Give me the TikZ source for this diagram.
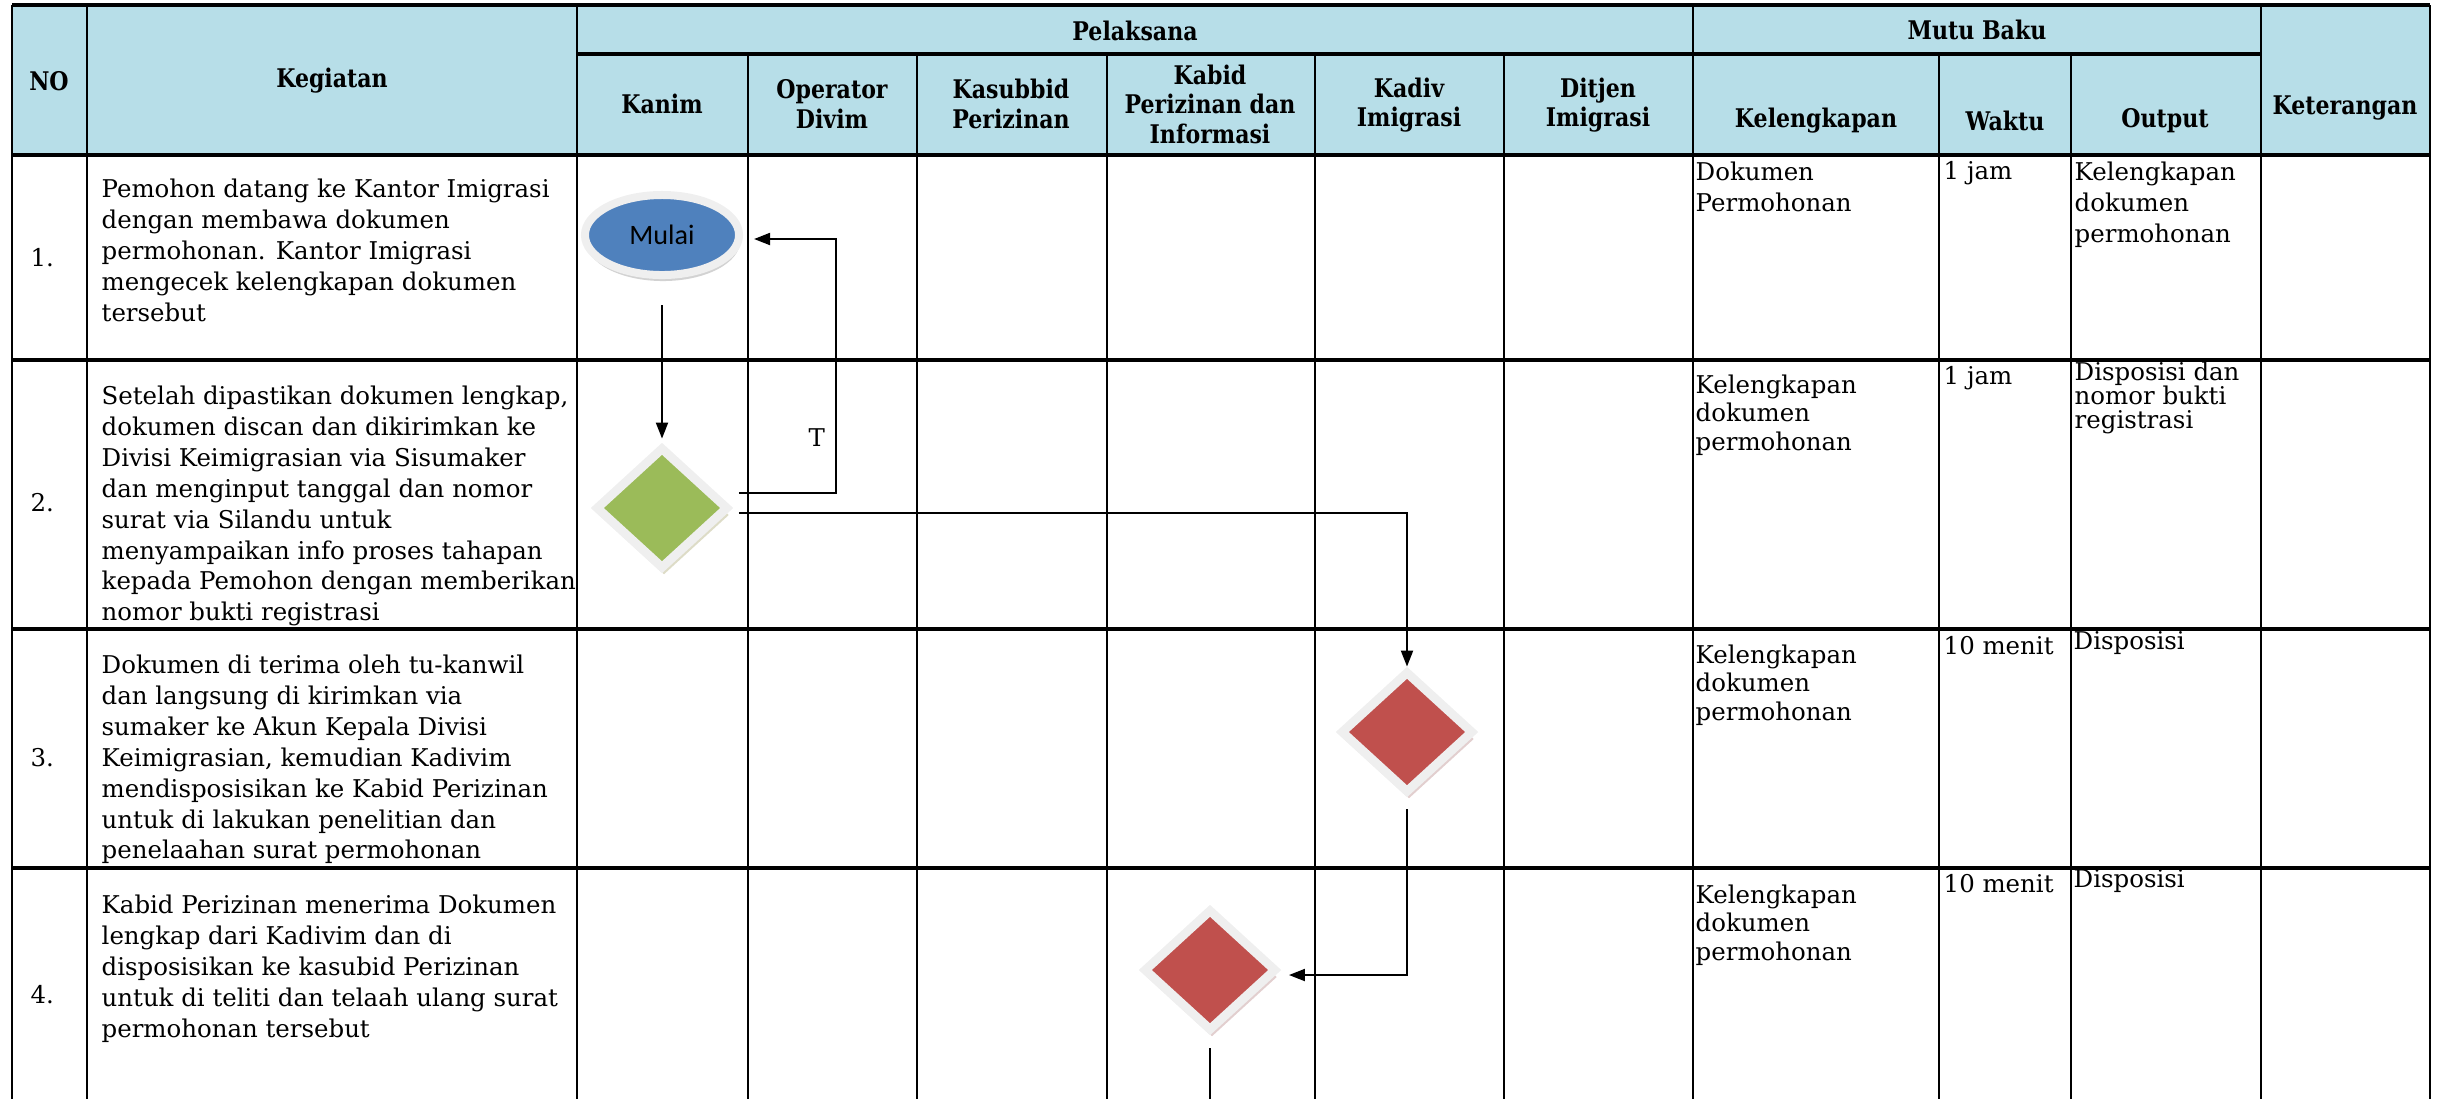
\documentclass[tikz,border=0pt]{standalone}
\usepackage{fontspec}
\setmainfont{DejaVu Serif}
\newfontfamily\headfont[FakeStretch=0.86]{DejaVu Serif}
\newfontfamily\calibri{Carlito}
\usetikzlibrary{arrows.meta, shapes.geometric, shadows, calc}
\definecolor{headblue}{HTML}{B7DEE8}
\definecolor{startblue}{HTML}{4F81BD}
\definecolor{okgreen}{HTML}{9BBB59}
\definecolor{stepred}{HTML}{C0504D}
\definecolor{rimgray}{HTML}{EFEFEF}
\tikzset{
    hd/.style={align=center, inner sep=0pt, font=\headfont\bfseries\fontsize{7.3}{8.4}\selectfont},
    txt/.style={anchor=north west, align=left, inner sep=0pt, font=\fontsize{6.95}{8.8}\selectfont},
    num/.style={anchor=west, inner sep=0pt, font=\fontsize{6.95}{8.8}\selectfont},
    rule/.style={line width=0.04cm},
    cellline/.style={line width=0.014cm},
    conn/.style={line width=0.02cm},
    decide/.style={diamond, minimum width=1.33cm, minimum height=1.22cm, inner sep=0pt,
      draw=rimgray, line width=0.088cm},
}
\begin{document}
\begin{tikzpicture}[x=0.01cm, y=-0.01cm, >={Triangle[length=0.16cm, width=0.12cm]}]
    \useasboundingbox (0,0) rectangle (2440,1099);
    \fill[headblue] (12,5) rectangle (2430,155);

    \draw[cellline] (87,5) -- (87,1099) (577,5) -- (577,1099)
      (748,54) -- (748,1099) (917,54) -- (917,1099) (1107,54) -- (1107,1099)
      (1315,54) -- (1315,1099) (1504,54) -- (1504,1099) (1693,5) -- (1693,1099)
      (1939,54) -- (1939,1099) (2071,54) -- (2071,1099) (2261,5) -- (2261,1099);
    \draw[line width=0.025cm] (12,5) -- (12,1099) (2430,5) -- (2430,1099);
    \draw[rule] (12,5) -- (2430,5) (577,54) -- (2261,54) (12,155) -- (2430,155)
      (12,360) -- (2430,360) (12,629) -- (2430,629) (12,868) -- (2430,868);

    \node[hd] (hno) at (49,81) {NO};
    \node[hd] (hkeg) at (332,81) {Kegiatan};
    \node[hd] (hpel) at (1135,31) {Pelaksana};
    \node[hd] (hmutu) at (1977,30) {Mutu Baku};
    \node[hd] (hket) at (2345,108) {Keterangan};
    \node[hd] (hkanim) at (662,104) {Kanim};
    \node[hd] (hop) at (832,104) {Operator\\Divim};
    \node[hd] (hkas) at (1011,104) {Kasubbid\\Perizinan};
    \node[hd] (hkab) at (1210,104) {Kabid\\Perizinan dan\\Informasi};
    \node[hd] (hkad) at (1409,105) {Kadiv\\Imigrasi};
    \node[hd] (hdit) at (1598,105) {Ditjen\\Imigrasi};
    \node[hd] (hkel) at (1816,121) {Kelengkapan};
    \node[hd] (hwak) at (2005,121) {Waktu};
    \node[hd] (hout) at (2165,121) {Output};

    \node[num] (n1) at (30,258) {1.};
    \node[num] (n2) at (30,503) {2.};
    \node[num] (n3) at (30,758) {3.};
    \node[num] (n4) at (30,995) {4.};

    \node[txt] (k1) at (101,178) {Pemohon datang ke Kantor Imigrasi\\dengan membawa dokumen\\permohonan. Kantor Imigrasi\\mengecek kelengkapan dokumen\\tersebut};
    \node[txt] (k2) at (101,385) {Setelah dipastikan dokumen lengkap,\\dokumen discan dan dikirimkan ke\\Divisi Keimigrasian via Sisumaker\\dan menginput tanggal dan nomor\\surat via Silandu untuk\\menyampaikan info proses tahapan\\kepada Pemohon dengan memberikan\\nomor bukti registrasi};
    \node[txt] (k3) at (101,654) {Dokumen di terima oleh tu-kanwil\\dan langsung di kirimkan via\\sumaker ke Akun Kepala Divisi\\Keimigrasian, kemudian Kadivim\\mendisposisikan ke Kabid Perizinan\\untuk di lakukan penelitian dan\\penelaahan surat permohonan};
    \node[txt] (k4) at (101,894) {Kabid Perizinan menerima Dokumen\\lengkap dari Kadivim dan di\\disposisikan ke kasubid Perizinan\\untuk di teliti dan telaah ulang surat\\permohonan tersebut};

    \node[txt] (l1) at (1695,161) {Dokumen\\Permohonan};
    \node[txt] (w1) at (1943,161) {1 jam};
    \node[txt] (o1) at (2074,161) {Kelengkapan\\dokumen\\permohonan};
    \node[txt, font=\fontsize{6.95}{8.1}\selectfont] (l2) at (1695,374) {Kelengkapan\\dokumen\\permohonan};
    \node[txt] (w2) at (1943,366) {1 jam};
    \node[txt, font=\fontsize{6.95}{6.8}\selectfont] (o2) at (2074,361) {Disposisi dan\\nomor bukti\\registrasi};
    \node[txt, font=\fontsize{6.95}{8.1}\selectfont] (l3) at (1695,644) {Kelengkapan\\dokumen\\permohonan};
    \node[txt] (w3) at (1943,636) {10 menit};
    \node[txt] (o3) at (2073,631) {Disposisi};
    \node[txt, font=\fontsize{6.95}{8.1}\selectfont] (l4) at (1695,884) {Kelengkapan\\dokumen\\permohonan};
    \node[txt] (w4) at (1943,874) {10 menit};
    \node[txt] (o4) at (2073,869) {Disposisi};

    \node[ellipse, minimum width=1.54cm, minimum height=0.80cm, inner sep=0pt, fill=startblue,
      draw=rimgray, line width=0.08cm, font=\calibri\fontsize{8}{9}\selectfont,
      drop shadow={shadow xshift=0.01cm, shadow yshift=-0.06cm, fill=black!35}] (m) at (662,235) {Mulai};
    \node[decide, fill=okgreen, drop shadow={shadow xshift=0.02cm, shadow yshift=-0.07cm, fill=olive!40!gray!60}] (g) at (662,508) {};
    \node[decide, fill=stepred, drop shadow={shadow xshift=0.02cm, shadow yshift=-0.07cm, fill=red!25!gray!60}] (d1) at (1407,732) {};
    \node[decide, fill=stepred, drop shadow={shadow xshift=0.02cm, shadow yshift=-0.07cm, fill=red!25!gray!60}] (d2) at (1210,970) {};

    \coordinate (gt) at ($(g.east)+(6,-15)$);
    \coordinate (gb) at ($(g.east)+(6,5)$);
    \coordinate (mr) at ($(m.east)+(11,4)$);
    \coordinate (bot) at (1210,1099);

    \draw[conn, ->, shorten <=0.26cm, shorten >=0.04cm] (m) -- (g);
    \draw[conn, ->] (gt) -- ++(97,0) -- node[pos=0.22, left=0.1cm, inner sep=0pt, font=\fontsize{6.95}{8.8}\selectfont] {T} ++(0,-254) -- (mr);
    \draw[conn, ->] (gb) -| (d1);
    \draw[conn, ->, shorten <=0.12cm] (d1) |- ($(d2.east)+(8,5)$);
    \draw[conn, shorten <=0.13cm] (d2) -- (d2 |- bot);
\end{tikzpicture}
\end{document}
